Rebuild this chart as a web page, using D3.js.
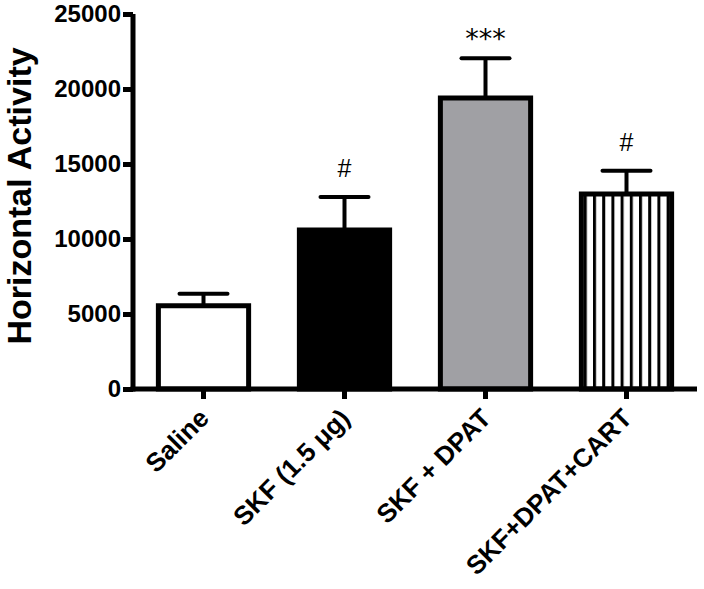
<html>
<head>
  <meta charset="utf-8">
  <script src="https://d3js.org/d3.v7.min.js"></script>
</head>
<style>
  body { margin: 0; background: #fff; }
  text { font-family: 'Liberation Sans', Arial, sans-serif; }
</style>
<body>
  <div class="chart"></div>
  <script>
    var groups = ["Saline", "SKF (1.5 \u03bcg)", "SKF + DPAT", "SKF+DPAT+CART"];
    var means = [5550, 10600, 19400, 13000];
    var errors = [800, 2200, 2650, 1550];
    var marks = ["", "#", "***", "#"];
    var yTicks = [0, 5000, 10000, 15000, 20000, 25000];

    var W = 704, H = 589;
    var margin = {top: 14, right: 7, bottom: 200, left: 133};
    var width = W - margin.left - margin.right;
    var height = 389 - margin.top;

    var svg = d3.select(".chart").append("svg")
      .attr("width", W)
      .attr("height", H);

    var defs = svg.append("defs");
    var pat = defs.append("pattern")
      .attr("id", "stripes")
      .attr("patternUnits", "userSpaceOnUse")
      .attr("width", 9.2)
      .attr("height", 10);
    pat.append("rect").attr("width", 9.2).attr("height", 10).attr("fill", "#fff");
    pat.append("rect").attr("x", 0).attr("width", 3).attr("height", 10).attr("fill", "#000");

    var fills = ["#fff", "#000", "#a0a0a4", "url(#stripes)"];

    var x = d3.scaleBand().domain(groups).range([0, width])
      .paddingInner(0.36).paddingOuter(0.18);
    var y = d3.scaleLinear().domain([0, 25000]).range([height, 0]);

    var g = svg.append("g")
      .attr("transform", "translate(" + margin.left + "," + margin.top + ")");

    // error bars (upper only)
    var eb = g.selectAll(".err").data(groups).enter().append("g").attr("class", "err");
    eb.append("line")
      .attr("x1", function(d) { return x(d) + x.bandwidth() / 2; })
      .attr("x2", function(d) { return x(d) + x.bandwidth() / 2; })
      .attr("y1", function(d, i) { return y(means[i]); })
      .attr("y2", function(d, i) { return y(means[i] + errors[i]); })
      .attr("stroke", "#000").attr("stroke-width", 4);
    eb.append("line")
      .attr("x1", function(d) { return x(d) + x.bandwidth() / 2 - 24; })
      .attr("x2", function(d) { return x(d) + x.bandwidth() / 2 + 24; })
      .attr("y1", function(d, i) { return y(means[i] + errors[i]); })
      .attr("y2", function(d, i) { return y(means[i] + errors[i]); })
      .attr("stroke", "#000").attr("stroke-width", 4).attr("stroke-linecap", "round");

    // bars
    g.selectAll(".bar").data(groups).enter().append("rect")
      .attr("class", "bar")
      .attr("x", function(d) { return x(d); })
      .attr("y", function(d, i) { return y(means[i]); })
      .attr("width", x.bandwidth())
      .attr("height", function(d, i) { return height - y(means[i]); })
      .attr("fill", function(d, i) { return fills[i]; })
      .attr("stroke", "#000")
      .attr("stroke-width", 5);

    // significance marks
    g.selectAll(".sig").data(groups).enter().append("text")
      .attr("class", "sig")
      .attr("x", function(d) { return x(d) + x.bandwidth() / 2; })
      .attr("y", function(d, i) { return y(means[i] + errors[i]) - (marks[i] == "#" ? 20 : 10); })
      .attr("text-anchor", "middle")
      .style("font-family", function(d, i) { return marks[i] == "#" ? "'Liberation Sans', Arial" : "'DejaVu Sans'"; })
      .style("font-size", function(d, i) { return marks[i] == "#" ? "25px" : "27px"; })
      .text(function(d, i) { return marks[i]; });

    // y axis
    var yAxis = g.append("g").call(d3.axisLeft(y).tickValues(yTicks).tickSize(10).tickFormat(d3.format("d")));
    yAxis.select(".domain").attr("stroke-width", 5).attr("d", "M0," + (height + 2.5) + "V0");
    yAxis.selectAll(".tick line").attr("stroke-width", 5);
    yAxis.selectAll(".tick text")
      .attr("x", -12)
      .style("font-size", "24px").style("font-weight", "bold")
      .attr("fill", "#000");

    // x axis
    var xAxis = g.append("g").attr("transform", "translate(0," + height + ")")
      .call(d3.axisBottom(x).tickSize(10).tickSizeOuter(0));
    xAxis.select(".domain").attr("stroke-width", 5).attr("d", "M-2.5,0H" + width);
    xAxis.selectAll(".tick line").attr("stroke-width", 5);
    xAxis.selectAll(".tick text")
      .attr("text-anchor", "end")
      .attr("transform", "translate(-6,18) rotate(-45)")
      .attr("x", 0).attr("y", 0).attr("dy", "0.7em")
      .style("font-size", "26px").style("font-weight", "bold")
      .attr("fill", "#000");

    // y axis title
    svg.append("text")
      .attr("transform", "translate(31,196) rotate(-90)")
      .attr("text-anchor", "middle")
      .style("font-size", "34px").style("font-weight", "bold")
      .text("Horizontal Activity");
  </script>
</body>
</html>
